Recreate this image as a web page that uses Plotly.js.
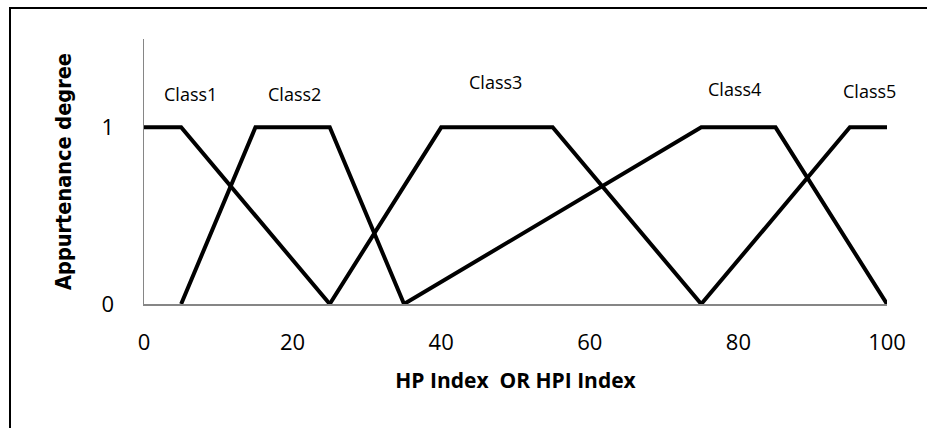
<!DOCTYPE html>
<html>
<head>
<meta charset="utf-8">
<script src="https://cdn.plot.ly/plotly-3.0.1.min.js"></script>
<style>
  html, body { margin: 0; padding: 0; background: #fff; overflow: hidden; }
  #wrap { position: relative; width: 927px; height: 428px; overflow: hidden; }
  #chart { position: absolute; left: 0; top: 0; width: 927px; height: 428px; }
  #frame { position: absolute; left: 9px; top: 7px; width: 940px; height: 440px;
           border-left: 2px solid #000; border-top: 2px solid #000; pointer-events: none; }
</style>
</head>
<body>
<div id="wrap">
  <div id="chart"></div>
  <div id="frame"></div>
</div>
<script>
// Membership function data (HP / HPI index vs appurtenance degree)
const classNames = ["Class1", "Class2", "Class3", "Class4", "Class5"];
const class1X = [0, 5, 25];
const class1Y = [1, 1, 0];
const class2X = [5, 15, 25, 35];
const class2Y = [0, 1, 1, 0];
const class3X = [25, 40, 55, 75];
const class3Y = [0, 1, 1, 0];
const class4X = [35, 75, 85, 100];
const class4Y = [0, 1, 1, 0];
const class5X = [75, 95, 100];
const class5Y = [0, 1, 1];
const xTickVals = [0, 20, 40, 60, 80, 100];
const yTickVals = [0, 1];
const yTickText = ["0", "1"];

const seriesX = [class1X, class2X, class3X, class4X, class5X];
const seriesY = [class1Y, class2Y, class3Y, class4Y, class5Y];

const traces = classNames.map((name, i) => ({
  type: "scatter",
  mode: "lines",
  name: name,
  x: seriesX[i],
  y: seriesY[i],
  line: { color: "#000000", width: 4 },
  hoverinfo: "x+y+name"
}));

// label anchor positions (layout only)
const labelPos = [[6.3, 1.19], [20.3, 1.19], [47.3, 1.255], [79.5, 1.217], [97.6, 1.204]];

const annotations = classNames.map((name, i) => ({
  x: labelPos[i][0], y: labelPos[i][1], xref: "x", yref: "y",
  text: name, showarrow: false,
  font: { family: "Open Sans", size: 18, color: "#000" },
  xanchor: "center", yanchor: "middle"
}));

const layout = {
  width: 927, height: 428,
  margin: { l: 144, r: 40, t: 39, b: 124 },
  paper_bgcolor: "#fff", plot_bgcolor: "#fff",
  showlegend: false,
  xaxis: {
    range: [0, 100], tickvals: xTickVals, ticks: "",
    showgrid: false, zeroline: false,
    showline: true, linecolor: "#868686", linewidth: 1.5,
    tickfont: { family: "Open Sans", size: 22, color: "#000" },
    ticklabelstandoff: 18,
    title: { text: "<b>HP Index\u00a0 OR HPI Index</b>", standoff: 18,
             font: { family: "Open Sans", size: 21, color: "#000" } }
  },
  yaxis: {
    range: [0, 1.5], tickvals: yTickVals, ticktext: yTickText, ticks: "",
    showgrid: false, zeroline: false,
    showline: true, linecolor: "#868686", linewidth: 1.5,
    tickfont: { family: "Open Sans", size: 22, color: "#000" },
    ticklabelstandoff: 24,
    title: { text: "<b>Appurtenance degree</b>", standoff: 24,
             font: { family: "DejaVu Sans Condensed, Open Sans", size: 21.5, color: "#000" } }
  },
  annotations: annotations
};

Plotly.newPlot("chart", traces, layout, { displayModeBar: false, staticPlot: true });
</script>
</body>
</html>
